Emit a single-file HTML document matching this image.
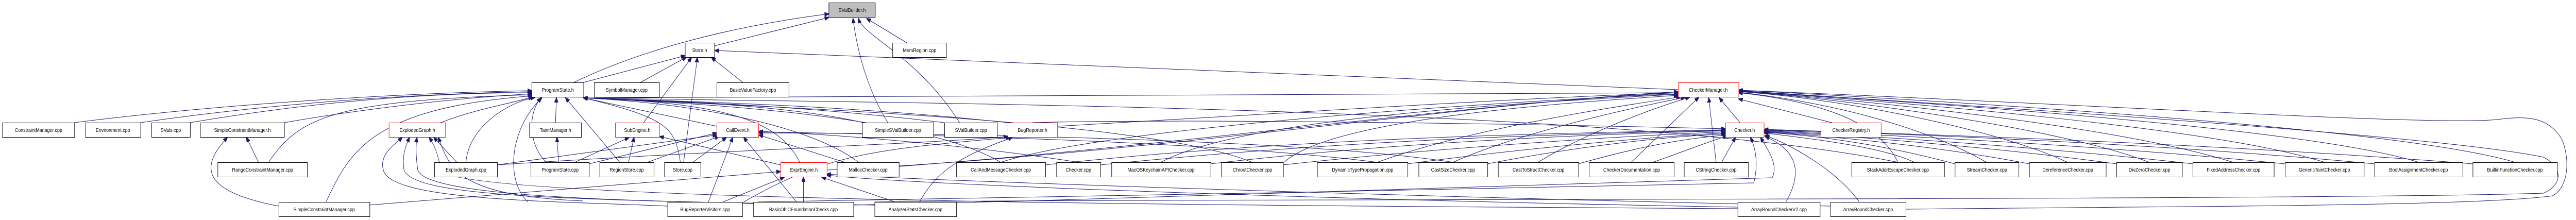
<!DOCTYPE html>
<html><head><meta charset="utf-8"><style>
html,body{margin:0;padding:0;background:#fff;width:100%;height:100%;overflow:hidden;}
svg{display:block;position:fixed;left:0;top:0;width:100vw;height:100vh;}
text{font-family:"Liberation Sans",sans-serif;font-size:10px;text-anchor:middle;fill:#000;}
.n rect{fill:#fff;stroke:#000;stroke-width:1;}
.n rect.r{stroke:#ff0000;}
.n rect.g{fill:#bfbfbf;}
.e path{fill:none;stroke:#191970;stroke-width:1;marker-end:url(#a);}
</style></head><body>
<svg viewBox="0 0 5611 427" preserveAspectRatio="none" xmlns="http://www.w3.org/2000/svg">
<defs><marker id="a" markerWidth="10" markerHeight="8" refX="9" refY="4" orient="auto" markerUnits="userSpaceOnUse"><path d="M0,0 L10,4 L0,8 z" fill="#191970" stroke="#191970"/></marker></defs>
<g class="e">
<path d="M1250,160 C1400,95 1600,50 1805,27"/>
<path d="M1556,89 L1805,34"/>
<path d="M1975,83 L1888,36"/>
<path d="M2090,238 C2000,110 1880,70 1870,36"/>
<path d="M1934,238 C1900,190 1870,120 1858,36"/>
<path d="M1271,160 L1492,108"/>
<path d="M1395,160 L1495,111"/>
<path d="M1618,160 L1550,112"/>
<path d="M1402,238 L1506,112"/>
<path d="M1489,315 L1519,112"/>
<path d="M3655,174 L1557,98"/>
<path d="M162,238 C500,200 900,180 1158,176"/>
<path d="M306,238 C600,200 900,182 1158,178"/>
<path d="M414,238 C700,195 950,180 1158,180"/>
<path d="M619,238 C800,210 1000,190 1158,182"/>
<path d="M585,315 C650,230 720,195 1158,184"/>
<path d="M710,392 C760,300 800,210 1160,186"/>
<path d="M960,238 C1040,210 1120,200 1160,188"/>
<path d="M1015,315 C1020,250 1100,200 1165,189"/>
<path d="M1210,238 L1212,190"/>
<path d="M1190,315 C1150,280 1150,220 1178,190"/>
<path d="M1150,392 C1100,350 1110,250 1180,190"/>
<path d="M1350,315 L1232,190"/>
<path d="M1482,315 C1470,250 1460,230 1271,190"/>
<path d="M1561,245 L1271,190"/>
<path d="M1742,315 C1700,240 1600,200 1271,190"/>
<path d="M1870,315 C1760,240 1500,200 1271,190"/>
<path d="M1880,238 C1700,200 1400,195 1271,190"/>
<path d="M2057,238 C1700,200 1400,195 1271,190"/>
<path d="M2195,238 C1800,200 1400,195 1271,190"/>
<path d="M3655,180 L1271,190"/>
<path d="M2180,315 C2000,220 1500,200 1271,190"/>
<path d="M2727,315 C2500,230 1600,205 1271,190"/>
<path d="M4134,315 C3500,200 1800,200 1271,190"/>
<path d="M563,315 L537,267"/>
<path d="M607,400 C430,370 440,320 495,267"/>
<path d="M995,315 L945,267"/>
<path d="M1454,400 C1200,390 850,390 835,330 C825,300 860,280 876,267"/>
<path d="M1641,395 C1200,385 900,380 880,330 C875,300 885,280 892,267"/>
<path d="M1905,398 C1500,392 930,390 910,330 C905,300 906,280 908,267"/>
<path d="M3785,405 C3000,400 980,395 960,330 C955,300 945,280 935,267"/>
<path d="M1270,390 C1000,380 980,330 955,267"/>
<path d="M1217,315 L1213,267"/>
<path d="M1252,315 L1370,267"/>
<path d="M1369,315 L1381,267"/>
<path d="M1700,320 L1437,265"/>
<path d="M1083,320 L1561,262"/>
<path d="M1283,318 L1561,258"/>
<path d="M1410,315 L1566,265"/>
<path d="M1509,315 L1582,267"/>
<path d="M1543,392 L1596,267"/>
<path d="M1735,392 L1620,267"/>
<path d="M1840,315 L1653,262"/>
<path d="M2349,315 C2100,280 1800,260 1653,255"/>
<path d="M3000,315 C2600,270 1900,260 1653,256"/>
<path d="M3165,315 C2800,265 1900,258 1653,258"/>
<path d="M1575,392 L1708,344"/>
<path d="M1750,392 L1750,344"/>
<path d="M1950,392 L1790,344"/>
<path d="M805,398 L1700,333"/>
<path d="M3785,402 C3000,390 2000,360 1801,340"/>
<path d="M3987,400 C3000,380 2000,350 1801,338"/>
<path d="M2003,392 C2040,330 2100,300 2205,267"/>
<path d="M1620,392 C1800,300 1900,290 2200,267"/>
<path d="M1083,320 C1600,290 2000,280 2195,265"/>
<path d="M2180,315 C2400,250 3200,200 3655,182"/>
<path d="M2529,315 C2700,230 3300,200 3655,183"/>
<path d="M2797,315 C2900,230 3400,200 3655,185"/>
<path d="M3000,315 C3200,250 3500,210 3660,188"/>
<path d="M3165,315 C3300,260 3550,210 3670,189"/>
<path d="M3350,315 C3450,260 3600,210 3680,189"/>
<path d="M3553,315 L3700,189"/>
<path d="M3738,315 L3722,190"/>
<path d="M3790,238 L3745,190"/>
<path d="M3990,238 L3787,192"/>
<path d="M4134,315 C4100,250 4000,200 3787,180"/>
<path d="M4327,315 C4200,250 4000,200 3787,179"/>
<path d="M4503,315 C4350,250 4000,190 3787,178"/>
<path d="M4681,315 C4500,250 4000,190 3787,177"/>
<path d="M4864,315 C4600,240 4000,190 3787,177"/>
<path d="M5063,315 C4800,240 4000,190 3787,176"/>
<path d="M5268,315 C5000,240 4000,190 3787,176"/>
<path d="M5478,315 C5200,240 4000,185 3787,175"/>
<path d="M1905,392 C2500,385 5000,390 5540,375 C5590,355 5575,320 5540,305 C5300,260 4200,200 3787,176"/>
<path d="M4151,406 C4800,400 5400,400 5560,380 C5600,360 5595,300 5580,270 C5550,225 5500,225 5440,232 C5300,245 4500,200 3787,175"/>
<path d="M1801,330 C2500,300 3200,200 3655,178"/>
<path d="M1958,323 C2600,280 3200,200 3655,180"/>
<path d="M2303,245 C2800,220 3300,190 3655,180"/>
<path d="M2277,320 C2800,270 3300,260 3758,252"/>
<path d="M2397,320 C2900,275 3300,262 3758,253"/>
<path d="M2637,318 C3000,280 3400,262 3758,254"/>
<path d="M2795,320 C3100,290 3500,265 3758,256"/>
<path d="M3066,318 C3300,290 3600,265 3758,258"/>
<path d="M3240,318 C3400,290 3600,266 3760,260"/>
<path d="M3438,318 C3550,290 3650,270 3762,262"/>
<path d="M3600,315 C3650,300 3720,275 3762,264"/>
<path d="M3750,315 L3780,267"/>
<path d="M1650,392 C2500,380 3000,370 3820,355 C3830,320 3825,290 3813,267"/>
<path d="M1860,398 C2500,385 3100,370 3860,345 C3875,320 3850,290 3835,267"/>
<path d="M3890,392 C3930,330 3910,290 3845,265"/>
<path d="M4050,392 C4000,330 3900,280 3845,263"/>
<path d="M4170,315 C4100,285 3950,270 3843,258"/>
<path d="M4258,318 C4100,280 3950,262 3843,257"/>
<path d="M4420,318 C4200,280 3950,262 3843,256"/>
<path d="M4610,318 C4300,280 3950,260 3843,255"/>
<path d="M4776,318 C4400,280 3950,258 3843,254"/>
<path d="M4977,318 C4500,275 3950,256 3843,253"/>
<path d="M5172,318 C4600,270 3950,255 3843,252"/>
<path d="M5386,318 C4700,270 3950,255 3843,251"/>
<path d="M2249,238 C2600,230 3300,240 3758,250"/>
</g>
<g class="n">
<rect class="g" x="1805.5" y="5.5" width="101" height="28"/><text x="1856" y="23">SValBuilder.h</text>
<rect x="1492.5" y="83.5" width="64" height="28"/><text x="1524" y="101">Store.h</text>
<rect x="1944.5" y="83.5" width="117" height="28"/><text x="2003" y="101">MemRegion.cpp</text>
<rect x="1158.5" y="160.5" width="113" height="28"/><text x="1215" y="178">ProgramState.h</text>
<rect x="1294.5" y="160.5" width="142" height="28"/><text x="1365" y="178">SymbolManager.cpp</text>
<rect x="1561.5" y="160.5" width="157" height="28"/><text x="1640" y="178">BasicValueFactory.cpp</text>
<rect class="r" x="3655.5" y="160.5" width="132" height="28"/><text x="3721" y="178">CheckerManager.h</text>
<rect x="5.5" y="238.5" width="157" height="28"/><text x="84" y="256">ConstraintManager.cpp</text>
<rect x="186.5" y="238.5" width="120" height="28"/><text x="246" y="256">Environment.cpp</text>
<rect x="330.5" y="238.5" width="84" height="28"/><text x="372" y="256">SVals.cpp</text>
<rect x="436.5" y="238.5" width="183" height="28"/><text x="528" y="256">SimpleConstraintManager.h</text>
<rect class="r" x="847.5" y="238.5" width="123" height="28"/><text x="909" y="256">ExplodedGraph.h</text>
<rect x="1153.5" y="238.5" width="113" height="28"/><text x="1210" y="256">TaintManager.h</text>
<rect class="r" x="1340.5" y="238.5" width="96" height="28"/><text x="1388" y="256">SubEngine.h</text>
<rect class="r" x="1561.5" y="238.5" width="91" height="28"/><text x="1607" y="256">CallEvent.h</text>
<rect x="1878.5" y="238.5" width="155" height="28"/><text x="1956" y="256">SimpleSValBuilder.cpp</text>
<rect x="2057.5" y="238.5" width="115" height="28"/><text x="2115" y="256">SValBuilder.cpp</text>
<rect class="r" x="2195.5" y="238.5" width="108" height="28"/><text x="2249" y="256">BugReporter.h</text>
<rect class="r" x="3758.5" y="238.5" width="84" height="28"/><text x="3800" y="256">Checker.h</text>
<rect class="r" x="3966.5" y="238.5" width="131" height="28"/><text x="4032" y="256">CheckerRegistry.h</text>
<rect x="474.5" y="315.5" width="195" height="28"/><text x="572" y="333">RangeConstraintManager.cpp</text>
<rect x="946.5" y="315.5" width="137" height="28"/><text x="1015" y="333">ExplodedGraph.cpp</text>
<rect x="1156.5" y="315.5" width="127" height="28"/><text x="1220" y="333">ProgramState.cpp</text>
<rect x="1306.5" y="315.5" width="118" height="28"/><text x="1365" y="333">RegionStore.cpp</text>
<rect x="1447.5" y="315.5" width="79" height="28"/><text x="1487" y="333">Store.cpp</text>
<rect class="r" x="1700.5" y="315.5" width="101" height="28"/><text x="1751" y="333">ExprEngine.h</text>
<rect x="1823.5" y="315.5" width="135" height="28"/><text x="1891" y="333">MallocChecker.cpp</text>
<rect x="2083.5" y="315.5" width="194" height="28"/><text x="2180" y="333">CallAndMessageChecker.cpp</text>
<rect x="2301.5" y="315.5" width="96" height="28"/><text x="2349" y="333">Checker.cpp</text>
<rect x="2421.5" y="315.5" width="216" height="28"/><text x="2529" y="333">MacOSKeychainAPIChecker.cpp</text>
<rect x="2660.5" y="315.5" width="135" height="28"/><text x="2728" y="333">ChrootChecker.cpp</text>
<rect x="2869.5" y="315.5" width="197" height="28"/><text x="2968" y="333">DynamicTypePropagation.cpp</text>
<rect x="3090.5" y="315.5" width="150" height="28"/><text x="3165" y="333">CastSizeChecker.cpp</text>
<rect x="3263.5" y="315.5" width="175" height="28"/><text x="3351" y="333">CastToStructChecker.cpp</text>
<rect x="3461.5" y="315.5" width="185" height="28"/><text x="3554" y="333">CheckerDocumentation.cpp</text>
<rect x="3668.5" y="315.5" width="140" height="28"/><text x="3738" y="333">CStringChecker.cpp</text>
<rect x="4033.5" y="315.5" width="202" height="28"/><text x="4134" y="333">StackAddrEscapeChecker.cpp</text>
<rect x="4258.5" y="315.5" width="139" height="28"/><text x="4328" y="333">StreamChecker.cpp</text>
<rect x="4420.5" y="315.5" width="167" height="28"/><text x="4504" y="333">DereferenceChecker.cpp</text>
<rect x="4610.5" y="315.5" width="143" height="28"/><text x="4682" y="333">DivZeroChecker.cpp</text>
<rect x="4776.5" y="315.5" width="177" height="28"/><text x="4865" y="333">FixedAddressChecker.cpp</text>
<rect x="4977.5" y="315.5" width="172" height="28"/><text x="5063" y="333">GenericTaintChecker.cpp</text>
<rect x="5172.5" y="315.5" width="192" height="28"/><text x="5268" y="333">BoolAssignmentChecker.cpp</text>
<rect x="5386.5" y="315.5" width="184" height="28"/><text x="5478" y="333">BuiltinFunctionChecker.cpp</text>
<rect x="607.5" y="392.5" width="198" height="28"/><text x="706" y="410">SimpleConstraintManager.cpp</text>
<rect x="1454.5" y="392.5" width="163" height="28"/><text x="1536" y="410">BugReporterVisitors.cpp</text>
<rect x="1641.5" y="392.5" width="218" height="28"/><text x="1750" y="410">BasicObjCFoundationChecks.cpp</text>
<rect x="1905.5" y="392.5" width="178" height="28"/><text x="1994" y="410">AnalyzerStatsChecker.cpp</text>
<rect x="3785.5" y="392.5" width="179" height="28"/><text x="3875" y="410">ArrayBoundCheckerV2.cpp</text>
<rect x="3987.5" y="392.5" width="164" height="28"/><text x="4069" y="410">ArrayBoundChecker.cpp</text>
</g>
</svg>
</body></html>
